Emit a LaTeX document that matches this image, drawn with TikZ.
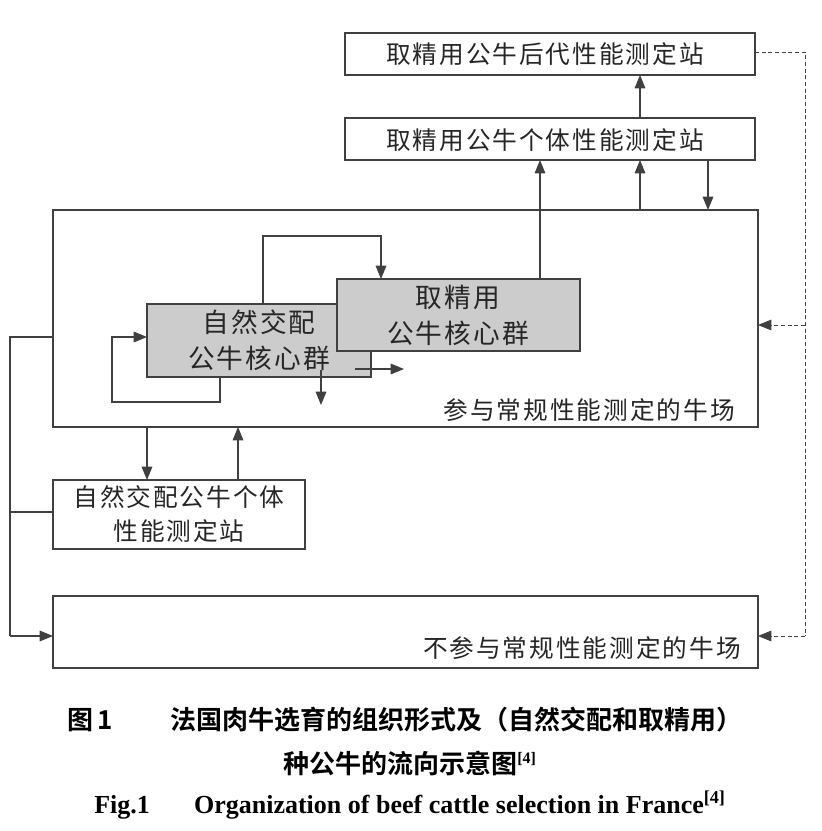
\documentclass[tikz,border=0pt]{standalone}
\usepackage{fontspec}
\setmainfont{Liberation Serif}
\newfontfamily\cjk[LetterSpace=8]{Noto Sans CJK SC}
\newfontfamily\cjkb[BoldFont=* Bold]{Noto Sans CJK SC}
\usetikzlibrary{arrows.meta}
\begin{document}
\begin{tikzpicture}[x=0.75pt,y=-0.75pt,
  ln/.style={draw=black!75,line width=0.8pt},
  ar/.style={ln,-{Triangle[length=10pt,width=8pt]}},
  dar/.style={ar,dashed,dash pattern=on 3pt off 2pt,line width=0.6pt},
  box/.style={ln,fill=white},
  gbox/.style={ln,fill=black!20},
  txt/.style={font=\cjk\fontsize{18.5}{26}\selectfont,text=black!85,align=center,inner sep=0pt},
  gtxt/.style={txt,font=\cjk\fontsize{20}{27}\selectfont}]
\useasboundingbox (0,0) rectangle (821,831);
% boxes
\draw[box] (345,33) rectangle (755,75); \node[txt] (t1) at (545,54) {取精用公牛后代性能测定站};
\draw[box] (345,118) rectangle (755,160); \node[txt] (t2) at (545,140) {取精用公牛个体性能测定站};
\draw[box] (53,210) rectangle (758,427); \node[txt,anchor=east] (t3) at (735,410) {参与常规性能测定的牛场};
\draw[box] (53,480) rectangle (305,549);
\node[txt] (t4) at (179,514) {自然交配公牛个体\\性能测定站};
\draw[box] (53,596) rectangle (758,668); \node[txt,anchor=east] (t5) at (741,648) {不参与常规性能测定的牛场};
% internal loops
\draw[ar] (263,304) -- (263,236) -- (381,236) -- (381,279);
\draw[ar] (220,377) -- (220,402) -- (112,402) -- (112,337) -- (147,337);
\draw[gbox] (147,304) rectangle (371,377);
\node[gtxt] (ta) at (259,340) {自然交配\\公牛核心群};
\draw[gbox] (337,279) rectangle (580,351);
\node[gtxt] (tb) at (458,315) {取精用\\公牛核心群};
\draw[ar] (321,370) -- (321,405);
\draw[ar] (355,369) -- (404,369);
% vertical links top
\draw[ar] (540,279) -- (540,160);
\draw[ar] (640,210) -- (640,160);
\draw[ar] (708,160) -- (708,210);
\draw[ar] (640,118) -- (640,75);
% links with C
\draw[ar] (147,427) -- (147,480);
\draw[ar] (238,480) -- (238,427);
% left line
\draw[ln] (53,337) -- (10,337) -- (10,636);
\draw[ar] (10,636) -- (53,636);
\draw[ln] (10,512) -- (53,512);
% dashed
\draw[ln,dashed,dash pattern=on 3pt off 2pt,line width=0.6pt] (755,52) -- (805,52) -- (805,636);
\draw[dar] (805,636) -- (758,636);
\draw[dar] (805,325) -- (758,325);
% captions
\node[font=\cjkb\bfseries\fontsize{19.5}{24}\selectfont] (c1) at (405,720) {图\,1\hspace{2.2em}法国肉牛选育的组织形式及（自然交配和取精用）};
\node[font=\cjkb\bfseries\fontsize{19.5}{24}\selectfont] (c2) at (410,763) {种公牛的流向示意图\textsuperscript{\normalfont\bfseries\fontsize{12}{12}\selectfont[4]}};
\node[font=\bfseries\fontsize{19.5}{24}\selectfont] (c3) at (410,805) {Fig.1\hspace{1.7em}Organization of beef cattle selection in France\textsuperscript{[4]}};
\end{tikzpicture}
\end{document}
